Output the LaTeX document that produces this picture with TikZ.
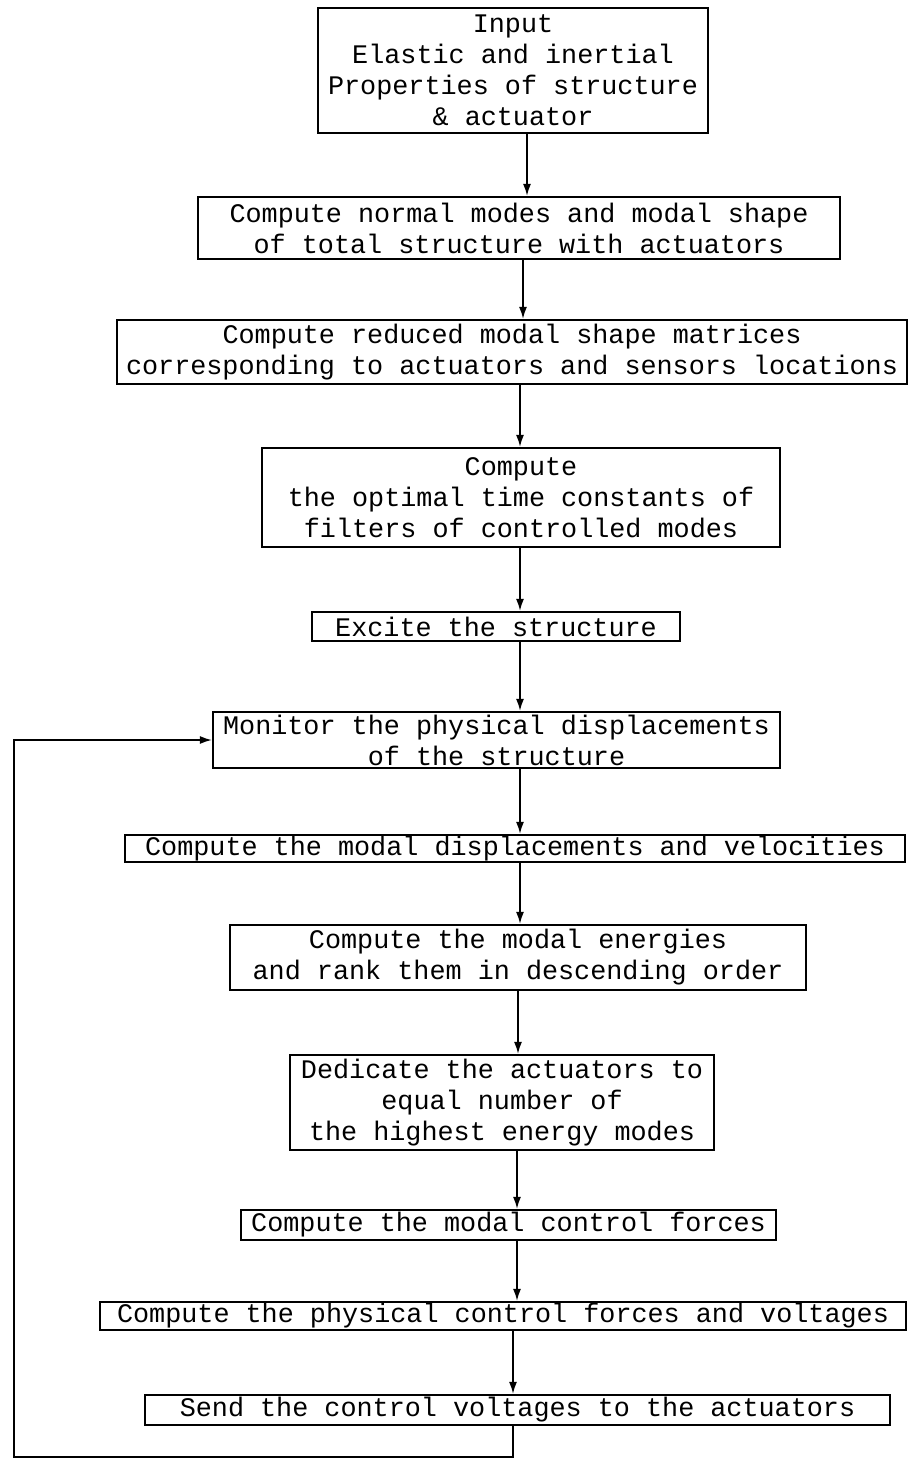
\documentclass[tikz,border=0pt]{standalone}
\usepackage{fontspec}
\setmonofont{Liberation Mono}
\usetikzlibrary{arrows.meta}
\begin{document}
\begin{tikzpicture}[x=0.5pt,y=-0.5pt,
  box/.style={draw,line width=1.1pt,inner sep=0pt,align=center,
    font=\ttfamily\fontsize{13.4}{15.5}\selectfont},
  arr/.style={line width=0.8pt,-{Latex[length=6pt,width=4pt]}},
  ln/.style={line width=0.8pt}]
\useasboundingbox (0,0) rectangle (909,1459);
\node[box,minimum width=195pt,minimum height=62.5pt] (b1) at (513,70.5)
  {Input\\Elastic and inertial\\Properties of structure\\\& actuator};
\node[box,minimum width=321pt,minimum height=31pt] (b2) at (519,228)
  {Compute normal modes and modal shape\\of total structure with actuators};
\node[box,minimum width=395pt,minimum height=32pt] (b3) at (512,352)
  {Compute reduced modal shape matrices\\corresponding to actuators and sensors locations};
\node[box,minimum width=259pt,minimum height=49.5pt] (b4) at (521,497.5)
  {Compute\\the optimal time constants of\\filters of controlled modes};
\node[box,minimum width=184pt,minimum height=14.5pt] (b5) at (496,626.5)
  {Excite the structure};
\node[box,minimum width=283.5pt,minimum height=28pt] (b6) at (496.5,740)
  {Monitor the physical displacements\\of the structure};
\node[box,minimum width=390pt,minimum height=13.5pt] (b7) at (515,848.5)
  {Compute the modal displacements and velocities};
\node[box,minimum width=288pt,minimum height=32.5pt] (b8) at (518,957.5)
  {Compute the modal energies\\and rank them in descending order};
\node[box,minimum width=212pt,minimum height=47.5pt] (b9) at (502,1102.5)
  {Dedicate the actuators to\\equal number of\\the highest energy modes};
\node[box,minimum width=267.5pt,minimum height=15pt] (b10) at (508.5,1225)
  {Compute the modal control forces};
\node[box,minimum width=403pt,minimum height=14pt] (b11) at (503,1316)
  {Compute the physical control forces and voltages};
\node[box,minimum width=372.5pt,minimum height=15pt] (b12) at (517.5,1410)
  {Send the control voltages to the actuators};
\coordinate (x1) at (527,0);
\coordinate (x2) at (523,0);
\coordinate (x3) at (520,0);
\coordinate (x4) at (518,0);
\coordinate (x5) at (517,0);
\coordinate (x6) at (513,0);
\draw[arr] (b1.south -| x1) -- (b2.north -| x1);
\draw[arr] (b2.south -| x2) -- (b3.north -| x2);
\draw[arr] (b3.south -| x3) -- (b4.north -| x3);
\draw[arr] (b4.south -| x3) -- (b5.north -| x3);
\draw[arr] (b5.south -| x3) -- (b6.north -| x3);
\draw[arr] (b6.south -| x3) -- (b7.north -| x3);
\draw[arr] (b7.south -| x3) -- (b8.north -| x3);
\draw[arr] (b8.south -| x4) -- (b9.north -| x4);
\draw[arr] (b9.south -| x5) -- (b10.north -| x5);
\draw[arr] (b10.south -| x5) -- (b11.north -| x5);
\draw[arr] (b11.south -| x6) -- (b12.north -| x6);
\coordinate (lc) at (14,1457);
\draw[arr] (b12.south -| x6) |- (lc) |- (b6.west);
\end{tikzpicture}
\end{document}
